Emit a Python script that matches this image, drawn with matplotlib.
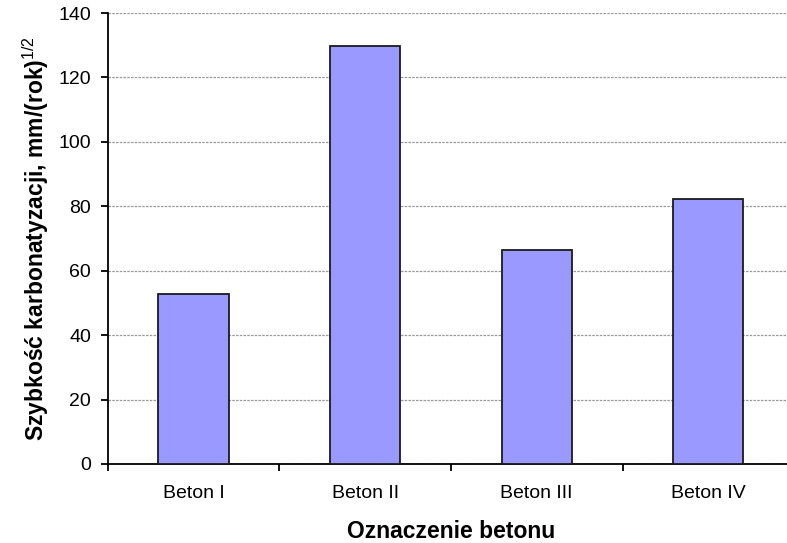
import matplotlib.pyplot as plt
import numpy as np

plt.rcParams['font.family'] = ['Liberation Sans', 'DejaVu Sans']
plt.rcParams['mathtext.fontset'] = 'custom'
plt.rcParams['mathtext.rm'] = 'Liberation Sans'
plt.rcParams['mathtext.bf'] = 'Liberation Sans:bold'

categories = ['Beton I', 'Beton II', 'Beton III', 'Beton IV']
values = [52.8, 129.7, 66.5, 82.3]

fig = plt.figure(figsize=(7.87, 5.43), dpi=100)
ax = fig.add_axes([0.137, 0.1455, 0.872, 0.8305])

x = np.arange(len(categories))
ax.bar(x, values, width=0.41, color='#9999ff', edgecolor='#1a1a1a', linewidth=1.3, zorder=3)

ax.set_xlim(-0.5, len(categories) - 0.5)
ax.set_ylim(0, 140)
ax.set_yticks(np.arange(0, 141, 20))
ax.yaxis.grid(True, color='#999999', linestyle=(0, (2, 1)), linewidth=0.9, zorder=0)

ax.set_xticks(x)
ax.set_xticklabels(categories, fontsize=14)
ax.set_xticks(np.arange(-0.5, len(categories), 1.0), minor=True)
ax.tick_params(axis='x', which='major', length=0, pad=15)
ax.tick_params(axis='x', which='minor', length=5, width=1.3, direction='out')
ax.tick_params(axis='y', length=5, width=1.3, labelsize=14, direction='out', pad=7)

for s in ['top', 'right']:
    ax.spines[s].set_visible(False)
ax.spines['left'].set_linewidth(1.3)
ax.spines['bottom'].set_linewidth(1.3)

ax.set_xlabel('Oznaczenie betonu', fontsize=16.5, fontweight='bold', labelpad=13)
ax.set_ylabel(r'Szybkość karbonatyzacji, mm/(rok)$^{1/2}$', fontsize=16.5, fontweight='bold', labelpad=5)

fig.savefig('out.png', dpi=100)
